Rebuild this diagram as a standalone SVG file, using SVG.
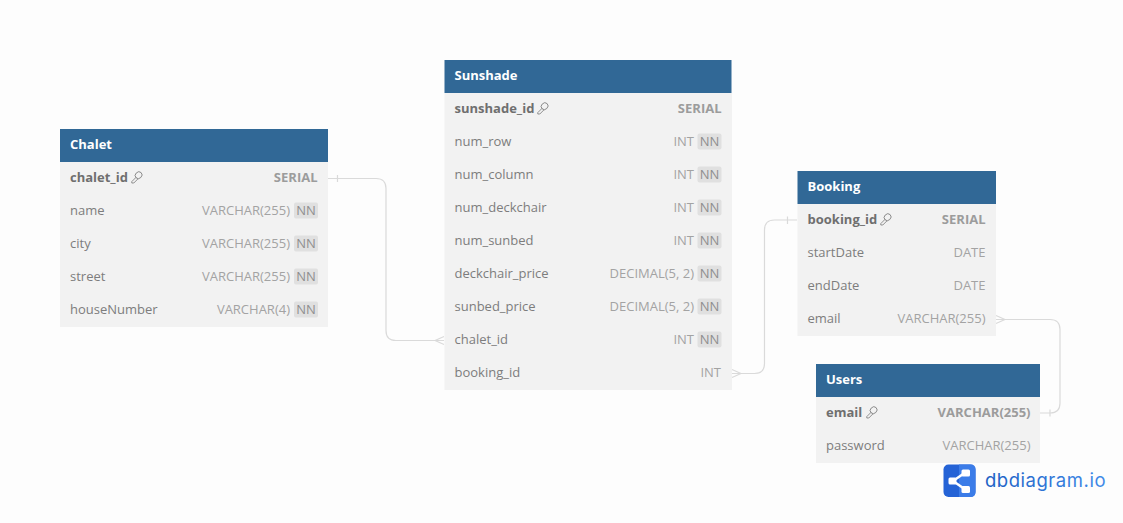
<svg xmlns="http://www.w3.org/2000/svg" width="1123" height="523" viewBox="0 0 1123 523">
<style>
text{font-family:"Open Sans","Noto Sans",sans-serif;font-size:13px;fill:#7d7d7d}
.hd{fill:#316896}.bd{fill:#f2f2f2}
.t{font-weight:700;fill:#fff}
.pk{font-weight:700;fill:#6f6f6f}
.ty{fill:#a3a3a3;text-anchor:end}
.pt{font-weight:700;fill:#9c9c9c;text-anchor:end}
.chip{fill:#e0e0e0}
.nn{fill:#8f8f8f;text-anchor:middle}
.ln{fill:none;stroke:#dadada;stroke-width:1.2}
.key{fill:none;stroke:#858585;stroke-width:.9}
</style>
<defs>
<g id="key"><ellipse cx="7.600" cy="4.200" rx="3.600" ry="3.200" class="key" transform="rotate(-45 7.600 4.200)"/><path d="M5.200 6.200 L.8 10.600 V12 H2.800 L7 7.800" class="key"/></g>
<g id="nnchip"><rect x="-24" y="-8" width="24" height="16" rx="2" class="chip"/><text x="-12" y="4.500" class="nn">NN</text></g>
<linearGradient id="lg" x1="0" x2="1" y1="0" y2="0"><stop offset="0" stop-color="#1f5fc4"/><stop offset="1" stop-color="#3f8ae8"/></linearGradient>
</defs>
<rect width="1123" height="523" fill="#fdfdfd"/>
<g id="connectors">
<path class="ln" d="M328 178.500H376Q386 178.500 386 188.500V330.500Q386 340.500 396 340.500H444"/>
<path class="ln" d="M337.500 175V182M435 340.500L444 336.500M435 340.500L444 344.500"/>
<path class="ln" d="M732 373.500H754.500Q764.500 373.500 764.500 363.500V230Q764.500 220 774.500 220H797"/>
<path class="ln" d="M787.500 216.500V224M741 373.500L732 369.500M741 373.500L732 377.500"/>
<path class="ln" d="M996 319.500H1050Q1060 319.500 1060 329.500V403Q1060 413 1050 413H1040"/>
<path class="ln" d="M1050 409.500V416.500M1005 319.500L996 315.500M1005 319.500L996 323.500"/>
</g>
<g id="chalet">
<rect class="bd" x="60" y="162" width="268" height="165"/><rect class="hd" x="60" y="129" width="268" height="33"/>
<text class="t" x="70" y="149">Chalet</text>
<text class="pk" x="70" y="182">chalet_id</text><use href="#key" x="131" y="171"/><text class="pt" x="317.500" y="182">SERIAL</text>
<text x="70" y="215">name</text><text class="ty" x="290" y="215">VARCHAR(255)</text><use href="#nnchip" x="318" y="210.500"/>
<text x="70" y="248">city</text><text class="ty" x="290" y="248">VARCHAR(255)</text><use href="#nnchip" x="318" y="243.500"/>
<text x="70" y="281">street</text><text class="ty" x="290" y="281">VARCHAR(255)</text><use href="#nnchip" x="318" y="276.500"/>
<text x="70" y="314">houseNumber</text><text class="ty" x="290" y="314">VARCHAR(4)</text><use href="#nnchip" x="318" y="309.500"/>
</g>
<g id="sunshade">
<rect class="bd" x="444.500" y="93" width="287.500" height="297"/><rect class="hd" x="444.500" y="60" width="287" height="33"/>
<text class="t" x="454.500" y="80">Sunshade</text>
<text class="pk" x="454.500" y="113">sunshade_id</text><use href="#key" x="537" y="102"/><text class="pt" x="721.500" y="113">SERIAL</text>
<text x="454.500" y="146">num_row</text><text class="ty" x="694" y="146">INT</text><use href="#nnchip" x="721.500" y="141.500"/>
<text x="454.500" y="179">num_column</text><text class="ty" x="694" y="179">INT</text><use href="#nnchip" x="721.500" y="174.500"/>
<text x="454.500" y="212">num_deckchair</text><text class="ty" x="694" y="212">INT</text><use href="#nnchip" x="721.500" y="207.500"/>
<text x="454.500" y="245">num_sunbed</text><text class="ty" x="694" y="245">INT</text><use href="#nnchip" x="721.500" y="240.500"/>
<text x="454.500" y="278">deckchair_price</text><text class="ty" x="694" y="278">DECIMAL(5, 2)</text><use href="#nnchip" x="721.500" y="273.500"/>
<text x="454.500" y="311">sunbed_price</text><text class="ty" x="694" y="311">DECIMAL(5, 2)</text><use href="#nnchip" x="721.500" y="306.500"/>
<text x="454.500" y="344">chalet_id</text><text class="ty" x="694" y="344">INT</text><use href="#nnchip" x="721.500" y="339.500"/>
<text x="454.500" y="377">booking_id</text><text class="ty" x="721" y="377">INT</text>
</g>
<g id="booking">
<rect class="bd" x="797.500" y="204" width="198.500" height="132"/><rect class="hd" x="797.500" y="171" width="198.500" height="33"/>
<text class="t" x="807.500" y="191">Booking</text>
<text class="pk" x="807.500" y="224">booking_id</text><use href="#key" x="880" y="213"/><text class="pt" x="985.500" y="224">SERIAL</text>
<text x="807.500" y="257">startDate</text><text class="ty" x="985.500" y="257">DATE</text>
<text x="807.500" y="290">endDate</text><text class="ty" x="985.500" y="290">DATE</text>
<text x="807.500" y="323">email</text><text class="ty" x="985.500" y="323">VARCHAR(255)</text>
</g>
<g id="users">
<rect class="bd" x="816" y="397" width="224" height="66"/><rect class="hd" x="816" y="364" width="224" height="33"/>
<text class="t" x="826" y="384">Users</text>
<text class="pk" x="826" y="417">email</text><use href="#key" x="866" y="406"/><text class="pt" x="1030.500" y="417">VARCHAR(255)</text>
<text x="826" y="450">password</text><text class="ty" x="1030.500" y="450">VARCHAR(255)</text>
</g>
<g id="logo">
<rect x="943.500" y="464.500" width="32" height="32.500" rx="5" fill="#2563d6"/>
<path d="M959 464.500H970.500Q975.500 464.500 975.500 469.500V492Q975.500 497 970.500 497H959Z" fill="#3b7ce8"/>
<path d="M966 472L953 481L966 490" fill="none" stroke="#fff" stroke-width="2.500"/>
<rect x="961.500" y="469.500" width="8.500" height="7" rx="1.500" fill="#fff"/><rect x="961.500" y="486" width="8.500" height="7" rx="1.500" fill="#fff"/><rect x="948.500" y="477.500" width="8" height="7" rx="1.500" fill="#fff"/>
<text x="985" y="487" style="font-family:Inter,'Noto Sans',sans-serif;font-size:18.500px;fill:url(#lg)" textLength="120.500" lengthAdjust="spacing">dbdiagram.io</text>
</g>
</svg>
